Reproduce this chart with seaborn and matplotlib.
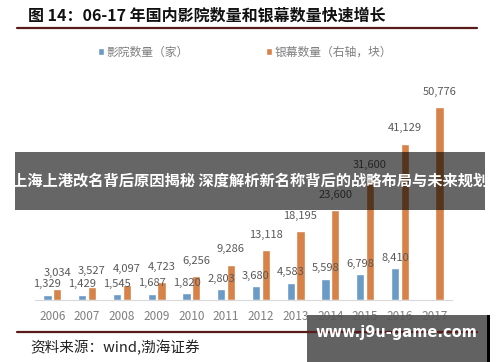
import numpy as np
import pandas as pd
import matplotlib
matplotlib.use("Agg")
import matplotlib.pyplot as plt
import seaborn as sns

years = ["2006", "2007", "2008", "2009", "2010", "2011",
         "2012", "2013", "2014", "2015", "2016", "2017"]
cinemas = [1329, 1429, 1545, 1687, 1820, 2803, 3680, 4583, 5598, 6798, 8410, np.nan]
screens = [3034, 3527, 4097, 4723, 6256, 9286, 13118, 18195, 23600, 31600, 41129, 50776]
series = ["影院数量（家）", "银幕数量（右轴，块）"]
colors = ["#5B9BD5", "#ED7D31"]

df = pd.DataFrame({
    "year": years * 2,
    "value": cinemas + screens,
    "series": [series[0]] * len(years) + [series[1]] * len(years),
})

sns.set_style("white")
plt.rcParams["font.family"] = ["Noto Sans CJK SC", "DejaVu Sans"]

fig = plt.figure(figsize=(5, 3.62), dpi=100)
ax = fig.add_axes([0.07, 0.171, 0.834, 0.630])

sns.barplot(data=df, x="year", y="value", hue="series", hue_order=series,
            palette=colors, width=0.56, gap=0.15, ax=ax, legend=True)

# blue labels sit a little lower than the orange ones
for cont, pad in zip(ax.containers, [4, 7.5]):
    ax.bar_label(cont, labels=[f"{v:,.0f}" for v in cont.datavalues],
                 padding=pad, fontsize=8, color="#595959")

handles, labels = ax.get_legend_handles_labels()
ax.get_legend().remove()
fig.legend(handles, labels, loc="center", bbox_to_anchor=(0.49, 0.856), ncol=2,
           frameon=False, handlelength=0.55, handleheight=0.55, handletextpad=0.2,
           columnspacing=6.5, prop={"size": 8.5}, labelcolor="#7f7f7f")

ax.set_ylim(0, 60000)
ax.set_xlim(-0.5, len(years) - 0.5)
ax.set_xlabel("")
ax.set_ylabel("")
ax.set_yticks([])
for s in ["top", "left", "right"]:
    ax.spines[s].set_visible(False)
ax.spines["bottom"].set_color("#d9d9d9")
ax.tick_params(axis="x", length=0, pad=7, labelsize=8.5, labelcolor="#7f7f7f")
ax.set_xticks(np.arange(-0.5, len(years)), minor=True)
ax.tick_params(axis="x", which="minor", length=4, color="#d9d9d9", direction="out")

# title and rules
fig.text(0.056, 0.958, "图 14：06-17 年国内影院数量和银幕数量快速增长",
         fontsize=11.5, fontweight="bold", color="#111111", va="center")
fig.add_artist(plt.Line2D([0.034, 0.954], [0.923, 0.923], color="#5a1a1a", lw=1.6))
fig.add_artist(plt.Line2D([0.034, 0.954], [0.083, 0.083], color="#5a1a1a", lw=1.6))
fig.text(0.06, 0.039, "资料来源：wind,渤海证券", fontsize=10.5, style="italic",
         color="#222222", va="center")

# overlay banner
fig.add_artist(plt.Rectangle((0.03, 1 - 210 / 362), 0.94, 58 / 362,
                             transform=fig.transFigure, color="black", alpha=0.6, lw=0))
fig.text(0.5, 1 - 181 / 362, "上海上港改名背后原因揭秘 深度解析新名称背后的战略布局与未来规划",
         fontsize=11, fontweight="bold", color="white", ha="center", va="center")

# watermark
fig.add_artist(plt.Rectangle((307 / 500, 0), 180 / 500, 47 / 362,
                             transform=fig.transFigure, color="#555555", alpha=0.92, lw=0))
fig.add_artist(plt.Rectangle((487 / 500, 0), 3 / 500, 47 / 362,
                             transform=fig.transFigure, color="black", lw=0))
fig.text(396 / 500, 1 - 332 / 362, "www.j9u-game.com", fontsize=10.5,
         fontweight="bold", color="white", ha="center", va="center",
         family="DejaVu Sans")

fig.savefig("out.png", dpi=100)
